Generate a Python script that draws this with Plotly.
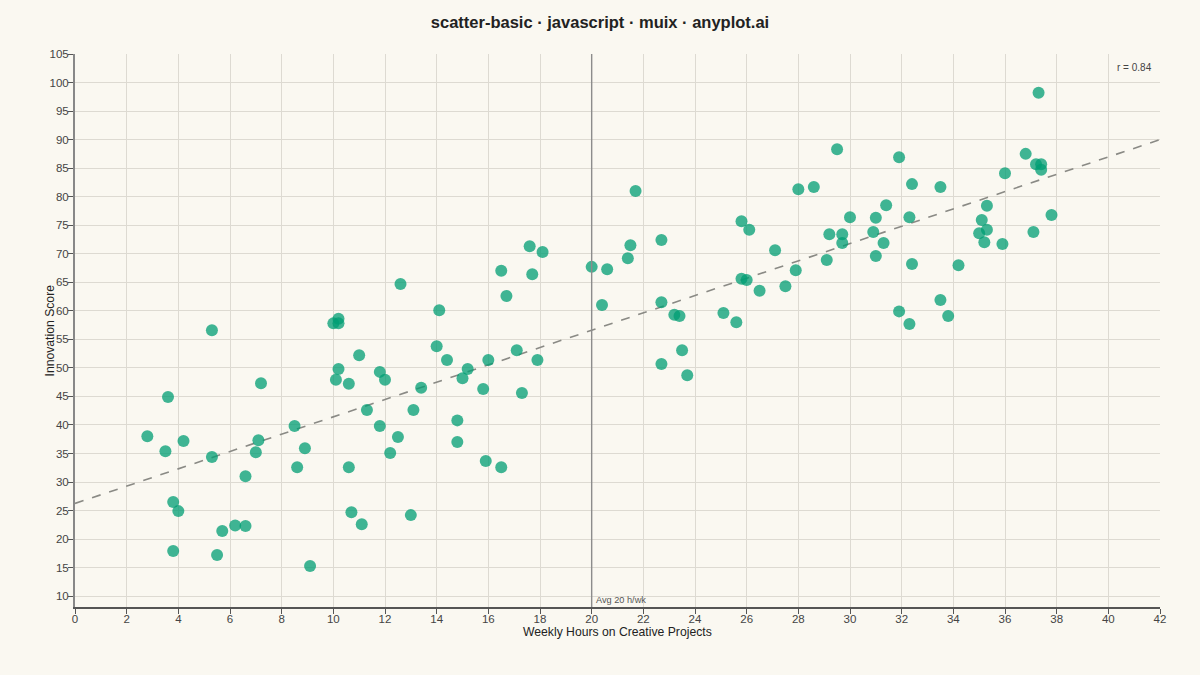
import plotly.graph_objects as go
import numpy as np

# weekly hours on creative projects vs innovation score
hours = [2.8, 3.5, 3.6, 3.8, 4.0, 3.8, 4.2, 5.3, 5.3, 5.7, 5.5, 6.2, 6.6, 6.6, 7.0, 7.1, 7.2,
         8.5, 8.6, 8.9, 9.1, 10.0, 10.2, 10.2, 10.2, 10.1, 10.6, 11.0, 10.6, 10.7, 11.1, 11.3,
         11.8, 12.0, 11.8, 12.2, 12.5, 12.6, 13.0, 13.1, 13.4, 14.0, 14.1, 14.4, 14.8, 14.8,
         15.0, 15.2, 15.8, 16.0, 15.9, 16.5, 16.5, 16.7, 17.1, 17.3, 17.6, 17.7, 17.9, 18.1,
         20.0, 20.4, 20.6, 21.4, 21.5, 21.7, 22.7, 22.7, 22.7, 23.2, 23.4, 23.5, 23.7, 25.1,
         25.6, 25.8, 25.8, 26.0, 26.1, 26.5, 27.1, 27.5, 27.9, 28.0, 28.6, 29.1, 29.2, 29.5,
         29.7, 29.7, 30.0, 30.9, 31.0, 31.0, 31.3, 31.4, 31.9, 31.9, 32.3, 32.3, 32.4, 32.4,
         33.5, 33.5, 33.8, 34.2, 35.0, 35.1, 35.2, 35.3, 35.3, 35.9, 36.0, 36.8, 37.1, 37.2,
         37.3, 37.4, 37.4, 37.8]
score = [38.0, 35.4, 44.9, 26.5, 24.9, 17.9, 37.2, 56.6, 34.4, 21.4, 17.2, 22.4, 22.3, 31.0,
         35.2, 37.3, 47.3, 39.8, 32.6, 35.9, 15.3, 57.8, 58.6, 57.8, 49.8, 47.9, 47.2, 52.2,
         32.6, 24.7, 22.6, 42.6, 49.3, 47.9, 39.8, 35.1, 37.9, 64.7, 24.2, 42.6, 46.5, 53.8,
         60.1, 51.4, 40.8, 37.0, 48.2, 49.8, 46.3, 51.4, 33.7, 67.0, 32.6, 62.6, 53.1, 45.6,
         71.3, 66.4, 51.4, 70.3, 67.7, 61.0, 67.3, 69.2, 71.5, 81.0, 72.4, 61.5, 50.7, 59.3,
         59.1, 53.1, 48.7, 59.6, 58.0, 75.7, 65.6, 65.4, 74.2, 63.5, 70.6, 64.3, 67.1, 81.3,
         81.7, 68.9, 73.4, 88.3, 73.4, 71.9, 76.4, 73.8, 69.6, 76.3, 71.9, 78.5, 86.9, 59.9,
         57.7, 76.4, 82.2, 68.2, 81.7, 61.9, 59.1, 68.0, 73.6, 75.9, 72.0, 78.4, 74.2, 71.7,
         84.1, 87.5, 73.8, 85.7, 98.2, 85.7, 84.7, 76.8]

avg_hours = 20
x_range = [0, 42]
y_range = [8.1, 105]

slope, intercept = np.polyfit(hours, score, 1)
r = np.corrcoef(hours, score)[0, 1]
fit_x = np.array(x_range)
fit_y = intercept + slope * fit_x

bg = "#FAF8F1"
grid = "#DDDAD2"
axis_col = "#555555"
font = "Liberation Sans, Arial, sans-serif"

fig = go.Figure()

fig.add_trace(go.Scatter(x=fit_x, y=fit_y, mode="lines",
                         line=dict(color="#8A8A85", width=1.6, dash="dash"),
                         hoverinfo="skip", showlegend=False))

fig.add_trace(go.Scatter(x=hours, y=score, mode="markers",
                         marker=dict(color="#009E73", size=12, opacity=0.75,
                                     line=dict(width=0)),
                         showlegend=False))

fig.add_shape(type="line", x0=avg_hours, x1=avg_hours, y0=0, y1=1, yref="paper",
              line=dict(color="#8C8C8C", width=1.4))
fig.add_annotation(x=avg_hours, y=0, yref="paper", text="Avg 20 h/wk", showarrow=False,
                   xanchor="left", yanchor="bottom", xshift=2, yshift=0,
                   font=dict(size=9.2, color="#555555", family=font))
fig.add_annotation(x=1, y=1, xref="paper", yref="paper", text=f"r = {r:.2f}", showarrow=False,
                   xanchor="right", yanchor="top", xshift=-6, yshift=-6,
                   font=dict(size=10, color="#444444", family=font))

# axis titles placed by hand, as in the original they sit close to the tick labels
fig.add_annotation(x=0.5, y=0, xref="paper", yref="paper",
                   text="Weekly Hours on Creative Projects", showarrow=False,
                   xanchor="center", yanchor="middle", yshift=-25,
                   font=dict(size=12.2, color="#222222", family=font))
fig.add_annotation(x=0, y=0.5, xref="paper", yref="paper", text="Innovation Score",
                   showarrow=False, textangle=-90, xanchor="center", yanchor="middle",
                   xshift=-26, font=dict(size=12.2, color="#222222", family=font))

fig.update_layout(
    width=1200, height=675,
    paper_bgcolor=bg, plot_bgcolor=bg,
    margin=dict(l=75, r=40, t=54, b=68),
    font=dict(family=font, color="#333333"),
    title=dict(text="<b>scatter-basic · javascript · muix · anyplot.ai</b>",
               x=0.5, xanchor="center", y=0.967, yanchor="middle",
               font=dict(size=16.5, color="#222222", family=font)),
    xaxis=dict(range=x_range, dtick=2, tick0=0, showgrid=True, gridcolor=grid, gridwidth=1,
               zeroline=False, showline=True, linecolor=axis_col, linewidth=1.5,
               ticks="outside", ticklen=5, tickcolor=axis_col, ticklabelstandoff=-5,
               tickfont=dict(size=11.5, color="#444444")),
    yaxis=dict(range=y_range, tickvals=list(range(10, 106, 5)), showgrid=True,
               gridcolor=grid, gridwidth=1, zeroline=False, showline=True,
               linecolor="#888888", linewidth=2, ticks="outside", ticklen=5,
               tickcolor=axis_col, ticklabelstandoff=-3,
               tickfont=dict(size=11.5, color="#444444")),
)

fig.write_html("out.html", config={"displayModeBar": False},
               post_script="document.body.style.margin='0';document.body.style.overflow='hidden';")
